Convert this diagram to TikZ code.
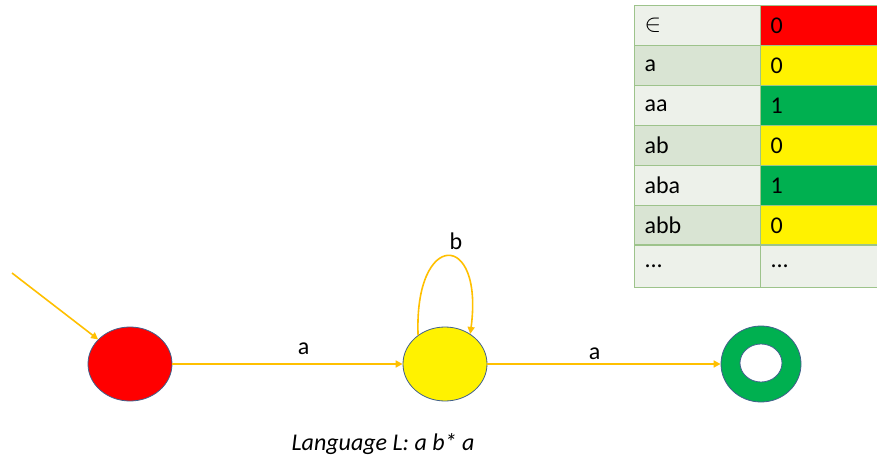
\documentclass[tikz,border=0pt]{standalone}
\usepackage{fontspec}
\setmainfont{Carlito}
\usetikzlibrary{arrows.meta, positioning, shapes.geometric}

\definecolor{arcorange}{HTML}{FFC000}
\definecolor{stateedge}{HTML}{41608C}
\definecolor{okgreen}{HTML}{00B050}
\definecolor{gridgreen}{HTML}{9DC38B}
\definecolor{rowlight}{HTML}{EDF1EA}
\definecolor{rowdark}{HTML}{D9E4D3}

\begin{document}
\begin{tikzpicture}[
    x=1pt, y=-1pt,
    statenode/.style={
        ellipse,
        draw=stateedge,
        line width=0.8pt,
        minimum width=84pt,
        minimum height=74pt,
        inner sep=0pt
    },
    arc/.style={
        draw=arcorange,
        line width=1.6pt,
        -{Triangle[width=7pt,length=7pt]}
    },
    arclabel/.style={
        font=\fontsize{24}{26}\selectfont,
        inner sep=1pt
    },
    tablecell/.style={
        draw=gridgreen,
        line width=1pt,
        anchor=north west,
        minimum width=126pt,
        minimum height=40pt,
        text width=106pt,
        inner xsep=10pt,
        align=left,
        font=\fontsize{24}{26}\selectfont
    }
]
    \clip (0,0) rectangle (877,462);
    \fill[white] (0,0) rectangle (877,462);

    % states
    \node[statenode, fill=red] (start) at (130,364) {};
    \node[statenode, fill=yellow] (loop) at (445,364) {};
    \node[statenode, fill=okgreen, minimum width=80pt, minimum height=76pt] (accept) at (761,364) {};
    \node[statenode, fill=white, minimum width=42pt, minimum height=38pt] (accepthole) at (761,363) {};

    % transitions
    \coordinate (entry) at (12,273);
    \draw[arc] (entry) -- (start);
    \draw[arc] (start) -- node[arclabel, pos=0.57, above=8pt] (lblaa) {a} (loop);
    \draw[arc] (loop) -- node[arclabel, pos=0.46, above=3pt] (lblab) {a} (accept);
    \draw[arc] (loop.133) .. controls (414,230) and (484,230) .. (loop.50);
    \node[arclabel] (lblb) at (456,241) {b};

    % table of words
    \foreach \i/\word/\val/\valfill/\wordfill in {
        1/{$\in$}/0/red/rowlight,
        2/a/0/yellow/rowdark,
        3/aa/1/okgreen/rowlight,
        4/ab/0/yellow/rowdark,
        5/aba/1/okgreen/rowlight,
        6/abb/0/yellow/rowdark} {
        \node[tablecell, fill=\wordfill] (word-\i) at (634,{5+40*(\i-1)}) {\word};
        \node[tablecell, fill=\valfill] (val-\i) at (760,{5+40*(\i-1)}) {\val};
    }
    \node[tablecell, fill=rowlight, minimum height=42pt] (word-7) at (634,245) {...};
    \node[tablecell, fill=rowlight, minimum height=42pt] (val-7) at (760,245) {...};
    \draw[gridgreen, line width=2pt] (word-7.north west) -- (val-7.north east);

    \node[font=\fontsize{24}{26}\selectfont\itshape] (caption) at (383,444) {Language L: a b* a};
\end{tikzpicture}
\end{document}
